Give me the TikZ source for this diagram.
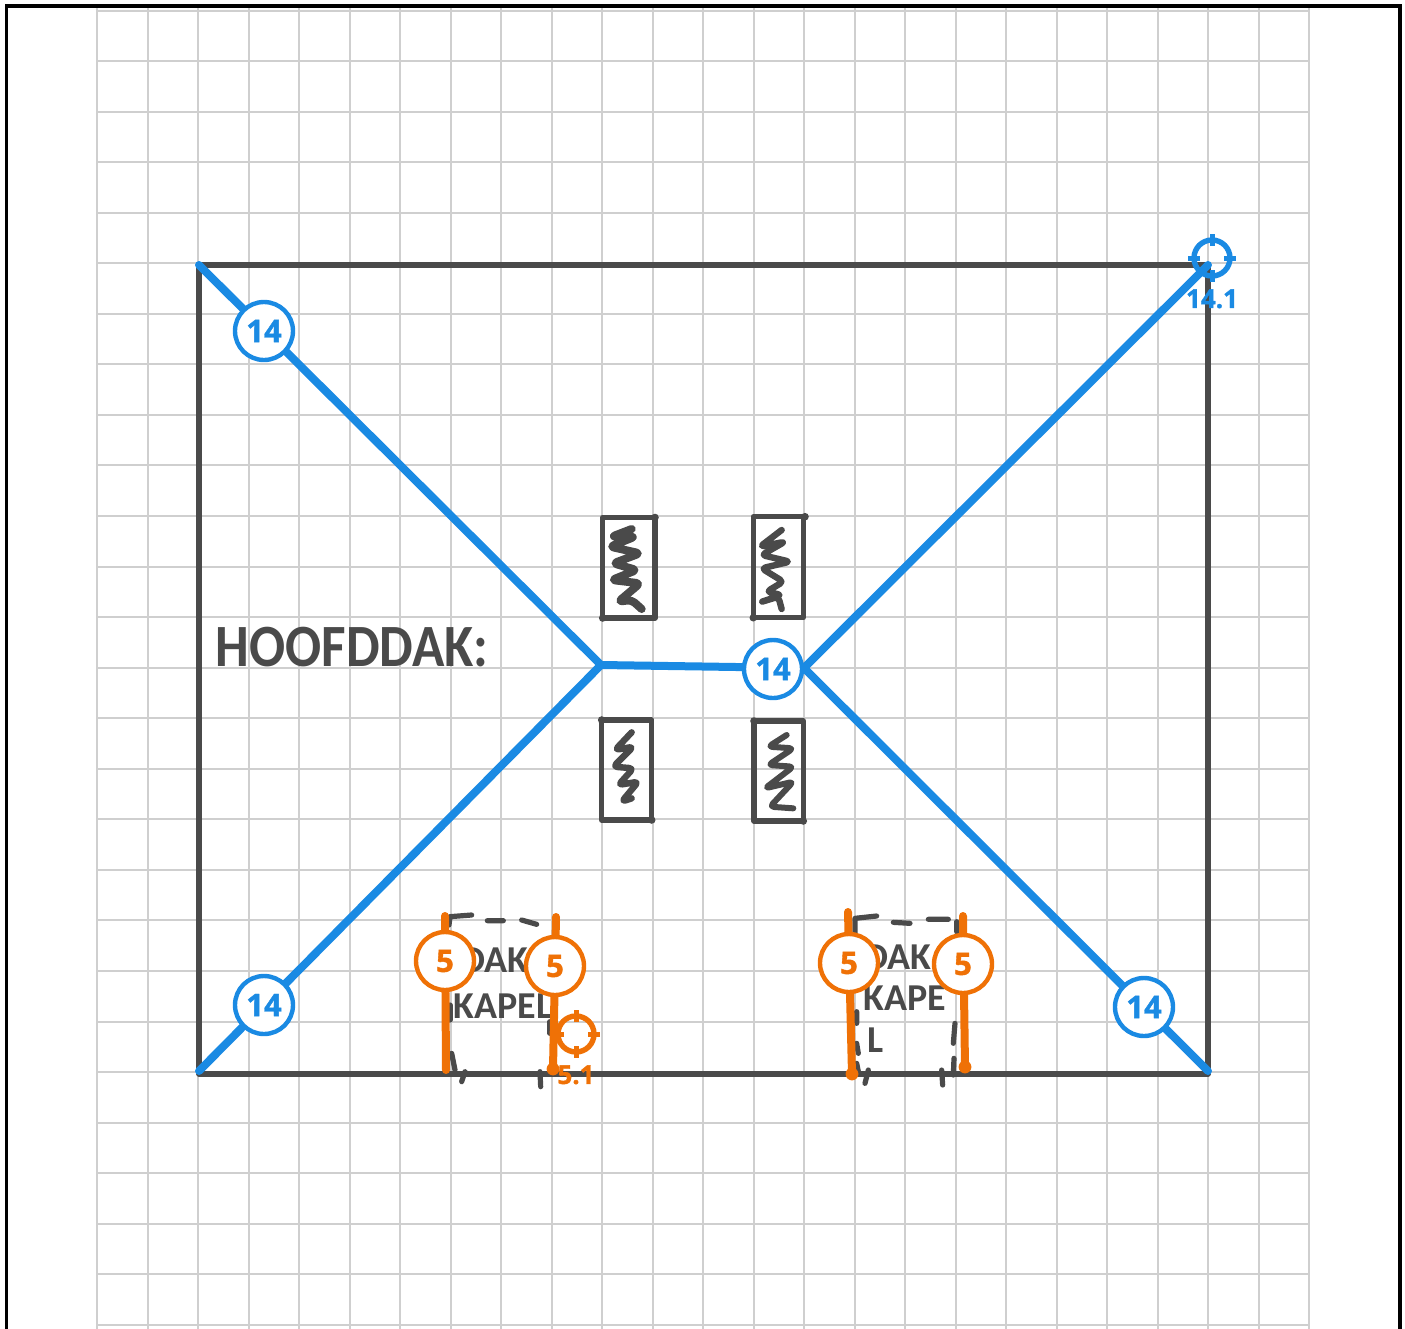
\documentclass[tikz,border=0pt]{standalone}
\usepackage{fontspec}
\usetikzlibrary{positioning}
\setmainfont{Open Sans}[BoldFeatures={FakeBold=1.3}]
\newfontfamily\handfont{Carlito}
\definecolor{gridgray}{HTML}{CFCFCF}
\definecolor{inkgray}{HTML}{4A4A4A}
\definecolor{hipblue}{HTML}{1A8AE3}
\definecolor{dormerorange}{HTML}{EF7106}
\tikzset{
    roofline/.style={inkgray,line width=2.7pt,line cap=round,line join=round},
    scribble/.style={inkgray,line width=#1,line cap=round,line join=round,rounded corners=2pt},
    dormerdash/.style={inkgray,line width=2.6pt,line cap=round,line join=round},
    hipline/.style={hipblue,line width=4pt,line cap=round},
    dormerline/.style={dormerorange,line width=4pt,line cap=round},
    badge/.style={circle,draw=#1,text=#1,fill=white,line width=2.2pt,minimum size=29pt,inner sep=0pt,font=\fontsize{15.5}{16}\selectfont\bfseries},
    crosshair/.style={circle,draw=#1,line width=2.7pt,minimum size=18pt,inner sep=0pt},
    crosslabel/.style={text=#1,inner sep=0pt,font=\fontsize{13}{14}\selectfont\bfseries},
    handtext/.style={text=inkgray,inner sep=0pt,font=\handfont\bfseries\fontsize{#1}{#1}\selectfont},
}
\begin{document}
\begin{tikzpicture}[x=.5pt,y=-.5pt]
    \useasboundingbox (0,0) rectangle (1405,1329);
    % grid
    \foreach \k in {0,...,24} \draw[gridgray,line width=1pt] (97+50.5*\k,7)--(97+50.5*\k,1329);
    \foreach \k in {0,...,26} \draw[gridgray,line width=1pt] (97,10.5+50.55*\k)--(1309,10.5+50.55*\k);
    % frame
    \draw[black,line width=1.6pt] (6.5,1329)--(6.5,6)--(1400,6)--(1400,1329);
    % main roof
    \coordinate (nw) at (199,265);
    \coordinate (ne) at (1208,265);
    \coordinate (se) at (1208,1074);
    \coordinate (sw) at (199,1074);
    \draw[roofline] (nw)--(ne)--(se)--(sw)--cycle;
    % skylights
    \foreach \a/\b/\c/\d in {602.7/517.5/655/618,753.3/516.7/803.3/617.7,601.7/720/651.7/820,754/721/803.3/821}
        \draw[roofline] (\a,\b) rectangle (\c,\d);
    \foreach \x/\y in {655/517.5,602.7/618,805/516.7,753.3/617.7,601.7/720,651.7/820,754/721,803.3/821}
        \fill[inkgray] (\x,\y) circle (1.9pt);
    \begin{scope}[shift={(590,505)},scale=1/3]
        \draw[scribble=4pt] (125,72)--(65,95)--(135,95)--(60,125)--(150,145)--(70,175)--(140,195)--(65,225)--(150,235)--(85,290)--(125,285)--(155,312);
        \draw[scribble=3.2pt] (575,75)--(510,125)--(585,110)--(515,150)--(600,170)--(515,190)--(580,230)--(530,260)--(575,270)--(510,292)--(565,275)--(575,312);
        \draw[scribble=3.2pt] (125,682)--(75,735)--(130,725)--(70,785)--(130,790)--(85,840)--(145,830)--(95,890)--(125,880);
        \draw[scribble=3pt] (590,690)--(535,725)--(610,730)--(535,780)--(610,785)--(525,850)--(610,830)--(540,905)--(610,910);
    \end{scope}
    % handwritten text
    \node[handtext=30] (hoofddak) at (352,647) {\scalebox{.89}[1]{HOOFDDAK:}};
    \node[handtext=19] (dak1) at (495,960) {DAK};
    \node[handtext=19] (kapel1) at (503,1006) {KAPEL};
    \node[handtext=19] (dak2) at (898,957) {DAK};
    \node[handtext=19] (kape2) at (905,998) {KAPE};
    \node[handtext=19] (l2) at (876,1040) {L};
    % dormer outlines
    \begin{scope}[shift={(400,890)},scale=1/3]
        \draw[dormerdash] (147,105)--(150,80)--(215,75);
        \draw[dormerdash] (262,92)--(310,92) (365,90)--(410,103);
        \draw[dormerdash] (150,345)--(150,390) (450,395)--(450,430);
        \draw[dormerdash] (155,490)--(165,540) (195,545)--(185,575) (420,545)--(422,590);
    \end{scope}
    \begin{scope}[shift={(800,890)},scale=1/3]
        \draw[dormerdash] (165,130)--(165,85)--(230,78);
        \draw[dormerdash] (280,97)--(330,100) (385,88)--(445,88) (470,95)--(470,125);
        \draw[dormerdash] (170,365)--(170,400) (170,460)--(175,490) (170,520)--(175,545);
        \draw[dormerdash] (465,400)--(460,460) (462,505)--(460,555);
        \draw[dormerdash] (205,540)--(195,580) (425,540)--(428,585);
    \end{scope}
    % hips and ridge
    \coordinate (ridgew) at (601,665);
    \coordinate (ridgee) at (804,668);
    \coordinate (hipsw) at (199,1071);
    \coordinate (hipse) at (1208,1071);
    \draw[hipline] (nw)--(ridgew) (hipsw)--(ridgew) (ridgew)--(ridgee) (ridgee)--(ne) (ridgee)--(hipse);
    % dormer hips
    \foreach \n/\a/\b/\c/\d in {a/445/916/446/1070,b/556/917/553/1069,c/848/912/852/1074,d/963/916/965/1067}{
        \coordinate (\n top) at (\a,\b);
        \coordinate (\n foot) at (\c,\d);
        \draw[dormerline] (\n top)--(\n foot);
    }
    \foreach \n in {b,c,d} \fill[dormerorange] (\n foot) circle (3.2pt);
    % badges
    \foreach \n/\x/\y in {hipa/264/331,hipb/773/669,hipc/264/1005,hipd/1144/1007}
        \node[badge=hipblue] (\n) at (\x,\y) {14};
    \foreach \n/\x/\y in {dora/445/961,dorb/555/966,dorc/849/963,dord/963/964}
        \node[badge=dormerorange] (\n) at (\x,\y) {5};
    % measuring points
    \foreach \n/\x/\y/\c/\t in {ptblue/1212/258/hipblue/14.1,ptorange/576/1034/dormerorange/5.1}{
        \node[crosshair=\c] (\n) at (\x,\y) {};
        \foreach \a in {0,90,180,270} \draw[\c,line width=2.5pt,shift={(\n.center)}] (\a:12)--(\a:24);
        \node[crosslabel=\c,below=15.5pt of \n.center] (\n label) {\t};
    }
\end{tikzpicture}
\end{document}
